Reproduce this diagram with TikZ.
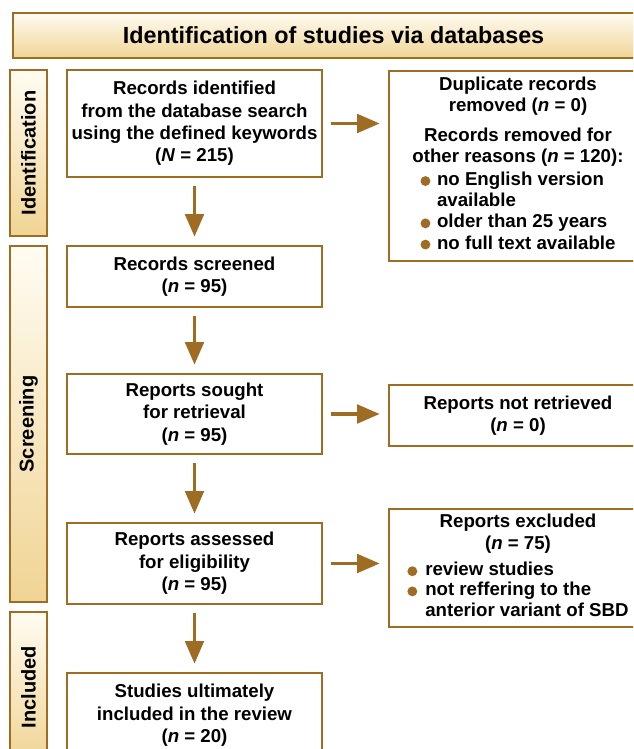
\documentclass[tikz,border=0pt]{standalone}
\usepackage{fontspec}
\setmainfont{Liberation Sans}
\usepackage{tikz}
\usetikzlibrary{arrows.meta, positioning}
\usepackage{xcolor}
\definecolor{prismabrown}{RGB}{158, 108, 34}
\definecolor{goldlight}{RGB}{255, 252, 242}
\definecolor{golddark}{RGB}{240, 212, 148}
\newcommand{\pbullet}{\tikz[baseline=-3.4pt]\fill[prismabrown](0,0)circle(3.7pt);}
\newcommand{\nn}{\textit{n}}

\begin{document}
\begin{tikzpicture}[x=0.75pt, y=-0.75pt,
  flowbox/.style={draw=prismabrown, line width=2pt, fill=white, align=center,
    inner sep=0pt, font=\bfseries\fontsize{14}{16.8}\selectfont},
  sidebox/.style={draw=prismabrown, line width=2pt, rotate=90, inner sep=0pt,
    top color=goldlight, bottom color=golddark,
    font=\bfseries\fontsize{15}{18}\selectfont},
  headbox/.style={draw=prismabrown, line width=2pt, inner sep=0pt,
    top color=goldlight, bottom color=golddark,
    font=\bfseries\fontsize{17.5}{21}\selectfont},
  flowarrow/.style={prismabrown, line width=2.5pt,
    -{Triangle[length=17pt, width=14pt]}, shorten <=5.5pt, shorten >=6pt}]
  \clip (0,0) rectangle (633,749);
  %---- Header and phase labels ----------------------------------------------
  \node[headbox, minimum width=641*0.75pt, minimum height=45*0.75pt] (head)
    at (333.5,35.5) {Identification of studies via databases};
  \node[sidebox, minimum width=166*0.75pt, minimum height=37*0.75pt] (identlab)
    at (28.5,153) {Identification};
  \node[sidebox, minimum width=356*0.75pt, minimum height=37*0.75pt] (screenlab)
    at (28.5,424) {Screening};
  \node[sidebox, minimum width=150*0.75pt, minimum height=37*0.75pt] (incllab)
    at (28.5,687) {Included};
  %---- Main column ----------------------------------------------------------
  \node[flowbox, minimum width=255*0.75pt, minimum height=107*0.75pt] (rec)
    at (194.5,123.5) {Records identified\\from the database search\\
      using the defined keywords\\(\textit{N} = 215)};
  \node[flowbox, minimum width=255*0.75pt, minimum height=61*0.75pt] (scr)
    at (194.5,276.5) {Records screened\\(\nn{} = 95)};
  \node[flowbox, minimum width=255*0.75pt, minimum height=80*0.75pt] (sought)
    at (194.5,414) {Reports sought\\for retrieval\\(\nn{} = 95)};
  \node[flowbox, minimum width=255*0.75pt, minimum height=81*0.75pt] (assessed)
    at (194.5,563.5) {Reports assessed\\for eligibility\\(\nn{} = 95)};
  \node[flowbox, minimum width=255*0.75pt, minimum height=85*0.75pt] (incl)
    at (194.5,715.5) {Studies ultimately\\included in the review\\(\nn{} = 20)};
  %---- Right column ---------------------------------------------------------
  \node[flowbox, font=\bfseries\fontsize{14}{16.2}\selectfont,
        minimum width=258*0.75pt, minimum height=190*0.75pt] (dup)
    at (518,166) {Duplicate records\\removed (\nn{} = 0)\\[6pt]
      Records removed for\\other reasons (\nn{} = 120):\\[2pt]
      \renewcommand{\arraystretch}{0.98}%
      \begin{tabular}{@{}c@{\hspace{5pt}}l@{}}
        \pbullet & no English version\\
                 & available\\
        \pbullet & older than 25 years\\
        \pbullet & no full text available
      \end{tabular}};
  \node[flowbox, minimum width=258*0.75pt, minimum height=61*0.75pt] (notret)
    at (518,415.5) {Reports not retrieved\\(\nn{} = 0)};
  \node[flowbox, font=\bfseries\fontsize{14}{16.8}\selectfont,
        minimum width=258*0.75pt, minimum height=118*0.75pt] (excl)
    at (518,568) {Reports excluded\\(\nn{} = 75)\\[5pt]
      \renewcommand{\arraystretch}{0.9}%
      \begin{tabular}{@{}c@{\hspace{6pt}}l@{}}
        \pbullet & review studies\\
        \pbullet & not reffering to the\\
                 & anterior variant of SBD
      \end{tabular}};
  %---- Connectors -----------------------------------------------------------
  \draw[flowarrow] (rec) -- (scr);
  \draw[flowarrow] (scr) -- (sought);
  \draw[flowarrow] (sought) -- (assessed);
  \draw[flowarrow] (assessed) -- (incl);
  \draw[flowarrow] (rec.east) -- (rec.east -| dup.west);
  \draw[flowarrow] (sought.east) -- (sought.east -| notret.west);
  \draw[flowarrow] (assessed.east) -- (assessed.east -| excl.west);
\end{tikzpicture}
\end{document}
